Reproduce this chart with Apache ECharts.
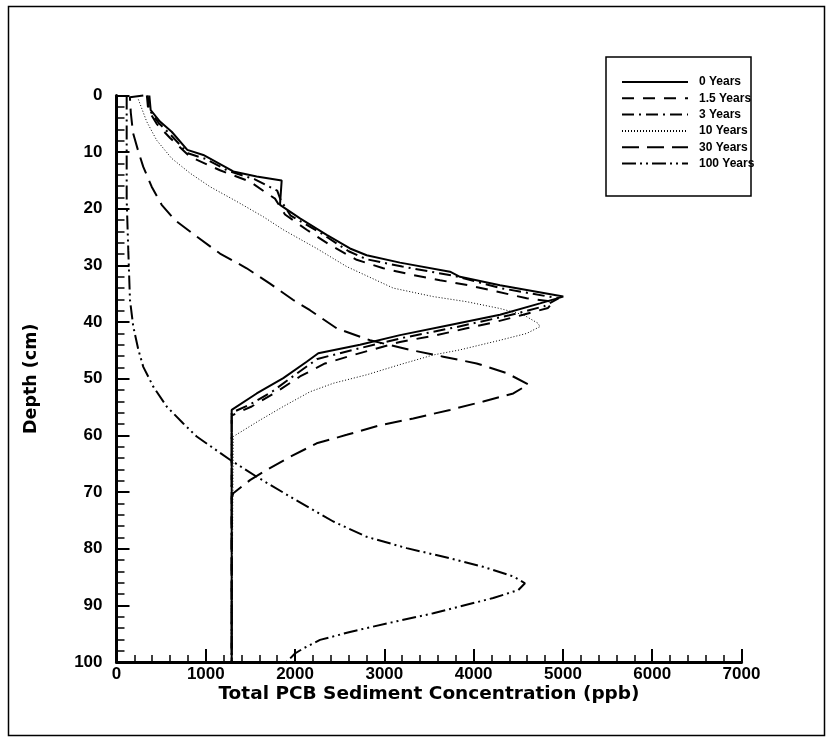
<!DOCTYPE html>
<html>
<head>
<meta charset="utf-8">
<script src="https://cdn.jsdelivr.net/npm/echarts@6/dist/echarts.min.js"></script>
<style>
html,body{margin:0;padding:0;background:#fff;}
#chart{width:833px;height:744px;}
</style>
</head>
<body>
<div id="chart"></div>
<script>
// Series names
const seriesNames = ["0 Years", "1.5 Years", "3 Years", "10 Years", "30 Years", "100 Years"];
// X tick values (ppb)
const xTicks = [0, 1000, 2000, 3000, 4000, 5000, 6000, 7000];
// Y tick values (cm)
const yTicks = [0, 10, 20, 30, 40, 50, 60, 70, 80, 90, 100];

// [concentration ppb, depth cm]
const years0 = [[368,0],[383,2.6],[487,4.6],[618,6.4],[793,9.6],[972,10.5],[1308,13.4],[1570,14.3],[1850,15.0],[1831,19.3],[2055,21.7],[2354,24.6],[2615,27.0],[2802,28.2],[3175,29.5],[3735,31.1],[3847,32.0],[4295,33.5],[5004,35.5],[4743,36.7],[4295,38.7],[3735,40.5],[3175,42.3],[2727,44.0],[2260,45.5],[2130,47.0],[1868,49.9],[1570,52.6],[1290,55.5],[1290,100]];
const years1_5 = [[340,0],[355,2.5],[450,5],[600,7.5],[823,10.8],[1159,13.2],[1495,15.2],[1660,17.0],[1775,18.2],[1887,21.0],[2130,23.7],[2391,26.4],[2690,29.0],[2988,30.5],[3321,31.7],[3623,32.6],[3940,33.5],[4258,34.6],[4594,35.8],[4892,36.4],[4833,37.5],[4555,38.7],[4239,40.0],[3922,41.1],[3586,42.3],[3175,43.5],[2653,45.8],[2335,47.3],[2055,49.6],[1794,52.3],[1514,54.9],[1383,55.8],[1290,56.5],[1290,100]];
const years3 = [[350,0],[365,2.5],[470,4.8],[610,7],[800,10.2],[1000,11.2],[1250,13.3],[1550,14.8],[1800,16.8],[1840,18.5],[1950,21.2],[2300,24.4],[2600,27.5],[2800,28.9],[3200,30.2],[3800,31.9],[4300,34.0],[4950,35.8],[4790,37.2],[4400,38.8],[3800,40.9],[3200,42.8],[2700,44.7],[2250,46.5],[2000,49.3],[1750,52.2],[1500,54.5],[1290,56.0],[1290,100]];
const years10 = [[245,0.7],[338,4.6],[450,7.9],[618,11.1],[823,13.7],[1047,16.1],[1346,18.7],[1644,21.4],[1868,23.7],[2242,27.0],[2578,30.2],[3100,34.0],[3548,35.5],[3922,36.4],[4295,37.6],[4556,38.7],[4720,40.2],[4743,40.8],[4594,42.0],[4295,43.2],[3847,44.9],[3548,45.8],[3175,47.5],[2802,49.3],[2428,50.8],[2167,52.3],[1868,54.9],[1607,57.3],[1308,60.2],[1290,60.5],[1290,100]];
const years30 = [[300,0],[150,0.3],[160,3],[185,6.6],[245,9.9],[300,12.6],[394,16.1],[506,19.3],[655,22],[898,24.9],[1159,27.9],[1458,30.5],[1719,33.2],[1980,36.1],[2167,37.9],[2466,41.1],[2839,43.2],[3287,44.9],[3660,46.1],[4034,47.3],[4370,49.0],[4612,51.0],[4444,52.6],[4108,54.0],[3735,55.5],[3324,57.0],[2951,58.2],[2578,59.9],[2242,61.4],[1943,63.8],[1682,66.1],[1495,67.9],[1308,70.2],[1290,71.1],[1290,100]];
const years100 = [[114,0],[114,6.6],[114,18.4],[132,27.3],[151,36.1],[188,40.8],[245,44.9],[300,47.9],[412,51.4],[562,54.9],[748,57.9],[898,60.2],[1271,64.3],[1570,67.3],[1943,70.8],[2428,75.2],[2802,77.9],[3250,79.9],[3735,81.7],[4108,83.2],[4444,84.9],[4575,86.1],[4500,87.3],[4220,88.7],[3847,90.2],[3548,91.4],[3026,93.2],[2615,94.7],[2279,96.1],[2092,97.6],[1999,98.5],[1906,100]];

const seriesData = [years0, years1_5, years3, years10, years30, years100];
const dashTypes = ['solid', [12,9], [12,5,2,5], [1,2], [17,8], [14,4,2,4,2,4]];
const widths = [2, 2, 2, 1, 2, 2];

const FONT = '"Liberation Sans", Arial, sans-serif';
const TITLE_FONT = '"DejaVu Sans", "Liberation Sans", sans-serif';
const chart = echarts.init(document.getElementById('chart'), null, {renderer: 'canvas'});

const option = {
  animation: false,
  backgroundColor: '#fff',
  grid: {left: 116.5, right: 91.5, top: 95.5, bottom: 82, containLabel: false},
  legend: {
    orient: 'vertical',
    left: 621, top: 76,
    itemWidth: 66, itemHeight: 14, itemGap: 4.3,
    padding: 0,
    data: seriesNames,
    itemStyle: {opacity: 0},
    textStyle: {fontFamily: FONT, fontWeight: 'bold', fontSize: 12, color: '#000', padding: [0,0,0,6]}
  },
  xAxis: {
    type: 'value', min: xTicks[0], max: xTicks[xTicks.length-1], interval: 1000,
    position: 'bottom',
    name: 'Total PCB Sediment Concentration (ppb)', nameLocation: 'middle', nameGap: 23,
    nameMoveOverlap: false,
    nameTextStyle: {fontFamily: TITLE_FONT, fontWeight: 'bold', fontSize: 18.5, color: '#000'},
    axisLine: {onZero: false, lineStyle: {color: '#000', width: 3}},
    axisTick: {inside: true, length: 13, lineStyle: {color: '#000', width: 2}},
    minorTick: {show: true, splitNumber: 5, length: 7, lineStyle: {color: '#000', width: 1.5}},
    splitLine: {show: false},
    axisLabel: {fontFamily: FONT, fontWeight: 'bold', fontSize: 17, color: '#000', margin: 4,
      formatter: v => String(v)}
  },
  yAxis: {
    type: 'value', inverse: true, min: yTicks[0], max: yTicks[yTicks.length-1], interval: 10,
    name: 'Depth (cm)', nameLocation: 'middle', nameGap: 76, nameRotate: 90,
    nameMoveOverlap: false,
    nameTextStyle: {fontFamily: TITLE_FONT, fontWeight: 'bold', fontSize: 17.5, color: '#000'},
    axisLine: {onZero: false, lineStyle: {color: '#000', width: 3}},
    axisTick: {inside: true, length: 13, lineStyle: {color: '#000', width: 2}},
    minorTick: {show: true, splitNumber: 5, length: 8, lineStyle: {color: '#000', width: 1.5}},
    splitLine: {show: false},
    axisLabel: {fontFamily: FONT, fontWeight: 'bold', fontSize: 17, color: '#000', margin: 14,
      formatter: v => String(v)}
  },
  graphic: [
    {type: 'rect', shape: {x: 8.5, y: 6.5, width: 816, height: 729}, style: {fill: null, stroke: '#000', lineWidth: 1.5}, silent: true},
    {type: 'rect', shape: {x: 606, y: 57, width: 145, height: 139}, style: {fill: '#fff', stroke: '#000', lineWidth: 1.5}, silent: true, z: -1}
  ],
  series: seriesNames.map((name, i) => ({
    name: name,
    type: 'line',
    data: seriesData[i],
    symbol: 'none',
    smooth: false,
    clip: false,
    lineStyle: {color: '#000', width: widths[i], type: dashTypes[i]},
    itemStyle: {color: '#000'},
    z: 10 - i
  }))
};
chart.setOption(option);
</script>
</body>
</html>
